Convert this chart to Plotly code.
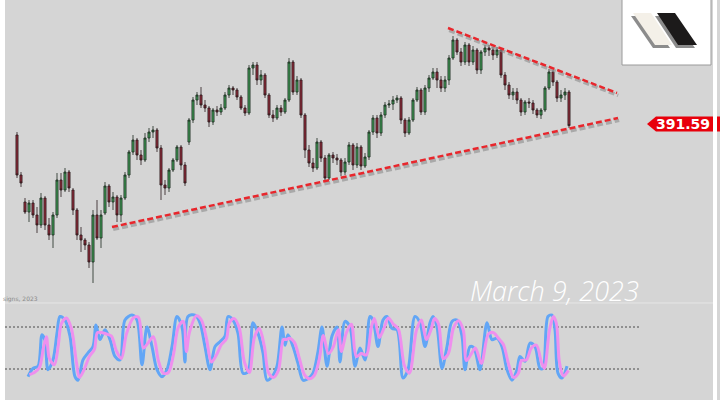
import plotly.graph_objects as go

# ---------------- data ----------------
opens = [389.25,379.25,372.5,370,372.25,369.25,366.75,373.5,366.75,364.25,
369.25,378,375.5,380,375.5,370.5,364.25,363,361.75,357.5,
369.25,363.5,369.75,376.5,372.5,373.75,369.25,373.5,379.25,385,
388,384.25,383,388.5,390,390.5,386,376.75,376,380.5,
383,386.25,381.75,387.5,393,398,399.25,396.75,396,392.5,
395.5,395,396,399.25,401,400.5,398.75,396,394.75,406,
406.75,403,404.25,399.25,394.25,393.5,396,395,398,407.5,
400,403,394.25,385.5,382.25,381,387.5,383.5,378.5,384.25,
383.5,383,380,382.5,386.75,381.75,386.25,381.5,383.75,390,
393.5,389.75,394.25,396.75,397,398,398.5,393,389.75,393,
398,400.5,395,401,403.5,405,403,401,403,408.5,
413,410,407.5,411.75,407.5,410.5,405.5,410,411,410.5,
409.25,410.5,404.25,401.75,399.25,400,398,395,397.5,397.25,
395.5,394.25,395.5,401,405,402.5,398.5,399.25,400]
highs = [390,380,373.5,373,373,371.25,374.75,374,368.5,370,
379.75,379.75,381,380.5,376,371,366.25,363.5,362.5,370.5,
373,370.5,377.5,377,375,374.25,374.25,380,385.5,389.25,
388.5,385.5,389.75,391,391.5,391,386.75,378,381,383.5,
386.75,386.75,382.5,393.5,398.75,400,401.25,398,396.5,396,
396.5,397,400,401.75,401.5,401,399.25,396.75,406.75,407.5,
407.5,405.5,404.75,399.75,395.5,396.75,396.75,398.5,408.5,408,
404,403.5,394.75,386.75,383.5,388.5,388,384.25,384.75,385,
384.5,383.5,383.5,387.5,387.25,387.25,386.75,384.75,390.5,394.25,
394.25,395,397.5,398,399,399.25,399,393.5,393.75,398.5,
401.25,401,401.75,404.25,406,406,404,404,409.25,414,
413.5,411,412.5,412.25,411.5,411,410.5,411.75,411.75,411.25,
411.25,411,405,402.5,401,401,398.5,398,398.5,398,
396,396,401.5,405.75,405.5,403,400.5,401,400.5]
lows = [378.5,376.25,369.5,367.5,368.5,364.75,366,365.5,363,361,
368.5,373.75,375,375,369.25,363,360,360.5,356,352.25,
363,361,369.25,371.25,370.5,367.5,367.5,373,378.5,384.25,
383,381.75,382.5,387.5,388.5,385,373,374.25,375,380,
382.5,380.5,376.5,386.75,392.25,396.75,396,395,391.25,391.75,
394,394.25,395.5,398.5,399.25,398,395.5,394,394.25,404.25,
401.75,401.75,398.5,393.5,392.5,393,394,394.5,397.5,399.25,
399.25,393.5,383.5,381.25,380,380.5,382.5,377.75,378,382.25,
381.75,379,379.25,381.75,380.5,381,380.5,381,383,389.25,
388.5,389,393.5,396,395.5,397.25,392,388.75,389.25,392.5,
397.5,394.25,394.25,400,403,401,400,400,401.75,408,
409.25,406.5,406.75,406.5,406.75,404.5,404.5,409,409,408,
408.5,403.5,400.5,398.25,398,397,394,394.25,396,394.5,
393.5,393.25,395,400.5,401.5,397.5,397.5,398,391]
closes = [379.25,377.25,370,372.25,369.25,366.75,373.5,366.75,364.25,369.25,
378,375.5,380,376,370.5,364.25,363,361.75,357.5,369.25,
363.5,369.25,376.5,372.5,373.75,369.25,373.5,379.25,385,388,
384.25,383,388.5,390,390.5,386,376.75,376,380.5,383,
386.25,381.75,377.25,393,398,399.25,396.75,396,392.5,395.5,
395,396,399.25,401,400.5,398.75,396,394.75,406,406.75,
403,404.25,399.25,394.25,393.5,396,395,398,407.5,400,
403,394.25,385.5,382.25,381,387.5,383.5,378.5,384.25,383.5,
383,380,382.5,386.75,381.75,386.25,381.5,383.75,390,393.5,
389.75,394.25,396.75,397,398,398.5,393,389.75,393,398,
400.5,395,401,403.5,405,403,401,403,408.5,413,
410,407.5,411.75,407.5,410.5,405.5,410,411,410.5,409.25,
410.5,404.25,401.75,399.25,400,398,395,397.5,397.25,395.5,
394.25,395.5,401,405,402.5,398.5,399.25,400,391.59]
bar_index = list(range(len(closes)))

last_price_label = "391.59"
date_label = "March 9, 2023"
copyright_label = "signs, 2023"

# trendlines (bar index, price)
lower_trend_x = [23.75, 150.25]
lower_trend_y = [366.25, 393.5]
upper_trend_x = [107.75, 150.0]
upper_trend_y = [416.0, 399.75]

# stochastic oscillator (bar index, value)
stoch_x = [2.75,4,5.25,6.25,7,7.75,9,10,10.75,12,
13.25,14.5,15.25,16.5,17.75,19,19.75,20.75,22,23.25,
24.5,25.75,27,28.75,30,31.25,32.5,33.75,35,36.25,
37.5,38.75,40,41.25,42,42.75,44.5,45.75,47,48.25,
49.5,50.75,52,52.75,54,55.25,56.5,57.75,59,60.25,
61.5,62.5,63.75,65,66.25,67,67.75,69,70.25,71.5,
72.75,74,75.25,76.25,77.5,78.75,80,80.75,82,83.25,
84.5,85.75,87,88.25,89,90.25,91.5,92.5,93.75,95,
96.5,97.75,99.5,100.75,102,103.25,104,105,106.25,107.5,
108.75,110,111.25,112,113.25,114.25,115.75,117.5,118.75,120,
121.25,122.5,123.75,125,125.75,127,128.25,129.5,130.75,131.5,
132.75,133.75,134.5,135.25,136.25,137.5]
stoch_k = [9,21,24,69,61,19,33,71,95,90,
67,9,4,33,43,52,83,62,76,62,
38,33,90,97,90,26,80,52,19,9,
19,52,95,80,30,95,97,86,52,19,
52,59,67,95,90,71,14,16,86,71,
43,4,9,24,80,54,69,52,28,4,
6,14,45,80,24,67,80,30,88,80,
24,50,33,95,90,52,90,95,78,76,
7,19,95,86,52,86,95,80,21,52,
88,90,67,19,52,50,19,86,62,64,
52,19,4,19,38,31,57,52,21,21,
95,97,76,14,7,24]
stoch_d = [12,15,22,50,66,35,26,55,85,93,
78,30,8,20,38,48,72,72,70,67,
46,35,70,93,94,50,58,66,32,14,
15,40,80,88,45,72,96,90,64,30,
40,55,63,86,92,78,30,15,65,78,
52,15,8,18,62,62,64,58,35,12,
6,11,35,68,42,52,76,45,72,84,
38,42,40,80,92,65,80,93,84,77,
25,14,75,90,62,78,92,85,35,42,
78,89,75,32,42,50,28,70,72,64,
55,28,8,14,32,33,50,54,30,21,
75,95,85,30,10,18]
stoch_levels = [80, 20]

# ---------------- styling helpers ----------------
W, H = 720, 400
BG = "#d5d5d5"
RED = "#e8262c"

def px(x):
    return x / W

def py(y):
    return 1 - y / H

def poly(points):
    return "M " + " L ".join(f"{px(a):.5f},{py(b):.5f}" for a, b in points) + " Z"

fig = go.Figure()

# trendline shadows
for tx, ty in [(lower_trend_x, lower_trend_y), (upper_trend_x, upper_trend_y)]:
    fig.add_trace(go.Scatter(
        x=[v + 0.3 for v in tx], y=[v - 0.6 for v in ty], mode="lines",
        line=dict(color="rgba(140,140,140,0.6)", width=3.5, dash="6px,3px"),
        hoverinfo="skip", showlegend=False, xaxis="x", yaxis="y"))

fig.add_trace(go.Candlestick(
    x=bar_index, open=opens, high=highs, low=lows, close=closes,
    increasing=dict(line=dict(color="#1d2a1f", width=0.8), fillcolor="#3f9d55"),
    decreasing=dict(line=dict(color="#2a1a1c", width=0.8), fillcolor="#932b3b"),
    whiskerwidth=0, hoverinfo="skip", showlegend=False, xaxis="x", yaxis="y"))

for tx, ty in [(lower_trend_x, lower_trend_y), (upper_trend_x, upper_trend_y)]:
    fig.add_trace(go.Scatter(
        x=tx, y=ty, mode="lines",
        line=dict(color=RED, width=2.5, dash="6px,3px"),
        hoverinfo="skip", showlegend=False, xaxis="x", yaxis="y"))

fig.add_trace(go.Scatter(
    x=stoch_x, y=stoch_k, mode="lines",
    line=dict(color="#62a6f6", width=3, shape="spline", smoothing=0.9),
    hoverinfo="skip", showlegend=False, xaxis="x2", yaxis="y2"))
fig.add_trace(go.Scatter(
    x=[v + 0.35 for v in stoch_x], y=stoch_d, mode="lines",
    line=dict(color="#ef8fee", width=3, shape="spline", smoothing=0.9),
    hoverinfo="skip", showlegend=False, xaxis="x2", yaxis="y2"))

xr = [-4.25, 175.75]
fig.update_layout(
    width=W, height=H, margin=dict(l=0, r=0, t=0, b=0),
    paper_bgcolor=BG, plot_bgcolor=BG, showlegend=False, boxgap=0.25,
    xaxis=dict(domain=[0, 1], range=xr, visible=False, rangeslider=dict(visible=False), anchor="y"),
    yaxis=dict(domain=[0.2425, 1], range=[347.25, 423], visible=False, anchor="x"),
    xaxis2=dict(domain=[0, 1], range=xr, visible=False, anchor="y2"),
    yaxis2=dict(domain=[0, 0.2425], range=[-24.3, 114.3], visible=False, anchor="x2"),
)

shapes = []
# stochastic reference levels
for lv in stoch_levels:
    shapes.append(dict(type="line", xref="x2", yref="y2", x0=-3, x1=155.75, y0=lv, y1=lv,
                       line=dict(color="#4a4a4a", width=1, dash="2px,2px"), layer="below"))
# panel separator
shapes.append(dict(type="line", xref="paper", yref="paper", x0=px(5), x1=px(713), y0=py(303), y1=py(303),
                   line=dict(color="#e6e6e6", width=1)))
# white edge strips
shapes.append(dict(type="rect", xref="paper", yref="paper", x0=0, x1=px(5), y0=0, y1=1,
                   fillcolor="white", line=dict(width=0)))
shapes.append(dict(type="rect", xref="paper", yref="paper", x0=px(713), x1=px(717), y0=0, y1=1,
                   fillcolor="white", line=dict(width=0)))
# logo box
shapes.append(dict(type="rect", xref="paper", yref="paper", x0=px(622), x1=px(711), y0=py(65), y1=py(-1),
                   fillcolor="white", line=dict(color="#9a9a9a", width=1)))
shapes.append(dict(type="path", xref="paper", yref="paper",
                   path=poly([(631, 16), (648, 16), (670, 48), (653, 48)]),
                   fillcolor="#8c8c8c", line=dict(width=0)))
shapes.append(dict(type="path", xref="paper", yref="paper",
                   path=poly([(633, 13), (651, 13), (672, 45), (655, 45)]),
                   fillcolor="#f4f0e8", line=dict(width=0)))
shapes.append(dict(type="path", xref="paper", yref="paper",
                   path=poly([(655, 16), (673, 16), (695, 48), (676, 48)]),
                   fillcolor="#8c8c8c", line=dict(width=0)))
shapes.append(dict(type="path", xref="paper", yref="paper",
                   path=poly([(657, 13), (675, 13), (697, 45), (678, 45)]),
                   fillcolor="#1c1a1a", line=dict(width=0)))
# price label
shapes.append(dict(type="path", xref="paper", yref="paper",
                   path=poly([(647, 124), (656, 116.5), (713, 116.5), (713, 131.5), (656, 131.5)]),
                   fillcolor="#e8000b", line=dict(width=0)))
shapes.append(dict(type="rect", xref="paper", yref="paper", x0=px(717), x1=1, y0=py(131.5), y1=py(116.5),
                   fillcolor="#e8000b", line=dict(width=0)))
fig.update_layout(shapes=shapes)

fig.add_annotation(xref="paper", yref="paper", x=px(683), y=py(124), text=f"<b>{last_price_label}</b>",
                   showarrow=False, xanchor="center", yanchor="middle",
                   font=dict(family="DejaVu Sans", size=14, color="white"))
fig.add_annotation(xref="paper", yref="paper", x=px(641), y=py(290), text=f"<i>{date_label}</i>",
                   showarrow=False, xanchor="right", yanchor="middle",
                   font=dict(family="Open Sans", size=27, color="white", weight=300))
fig.add_annotation(xref="paper", yref="paper", x=px(1), y=py(299), text=copyright_label,
                   showarrow=False, xanchor="left", yanchor="middle",
                   font=dict(family="DejaVu Sans", size=6, color="#8a8a8a"))

fig.write_html("out.html", config={"displayModeBar": False, "staticPlot": True},
               post_script="document.body.style.margin='0px';document.body.style.padding='0px';"
                           "document.documentElement.style.overflow='hidden';")
